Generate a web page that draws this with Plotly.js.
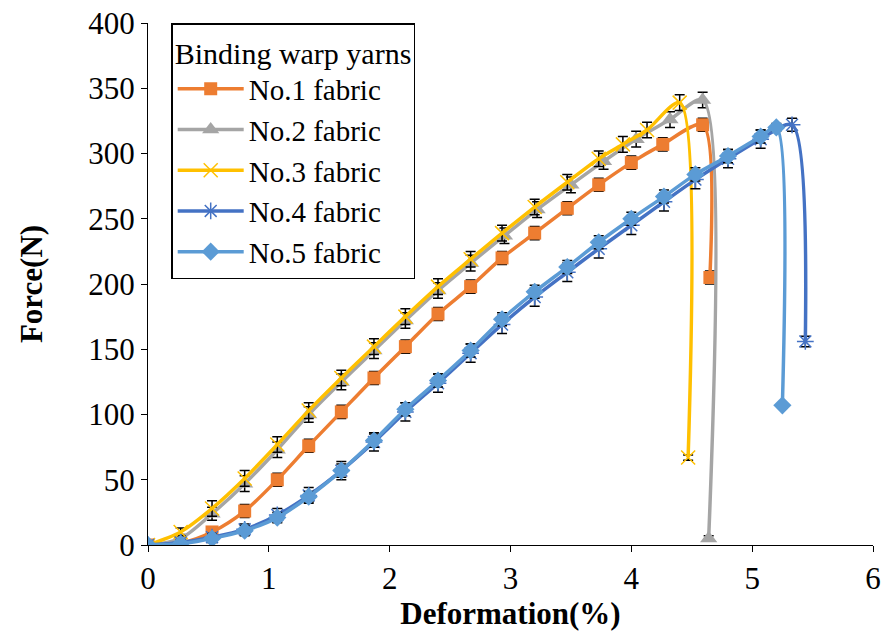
<!DOCTYPE html>
<html>
<head>
<meta charset="utf-8">
<script src="https://cdn.plot.ly/plotly-3.0.1.min.js"></script>
<style>html,body{margin:0;padding:0;background:#fff;}#chart{width:884px;height:640px;}</style>
</head>
<body>
<div id="chart"></div>
<script>
// Deformation (%) and Force (N)
const seriesNames = ["No.1 fabric", "No.2 fabric", "No.3 fabric", "No.4 fabric", "No.5 fabric"];

const x1 = [0, 0.27, 0.53, 0.8, 1.07, 1.33, 1.6, 1.87, 2.13, 2.4, 2.67, 2.93, 3.2, 3.47, 3.73, 4.0, 4.26, 4.59, 4.65];
const y1 = [0, 1.5, 10, 26, 50, 76, 102, 128, 152, 177, 198, 220, 239, 258, 276, 293, 307, 322, 205];

const x2 = [0, 0.27, 0.53, 0.8, 1.07, 1.33, 1.6, 1.87, 2.13, 2.4, 2.67, 2.95, 3.22, 3.5, 3.77, 4.04, 4.32, 4.59, 4.64];
const y2 = [0, 5, 24, 47, 73, 100, 125, 149, 172, 195, 216, 237, 257, 276, 294, 311, 326, 341, 5];

const x3 = [0, 0.27, 0.53, 0.8, 1.07, 1.33, 1.6, 1.87, 2.13, 2.4, 2.67, 2.93, 3.2, 3.47, 3.73, 3.93, 4.13, 4.4, 4.47];
const y3 = [0, 10, 28, 51, 77, 103, 128, 152, 175, 198, 219, 239, 259, 278, 296, 307, 318, 339, 67];

const x4 = [0, 0.27, 0.53, 0.8, 1.07, 1.33, 1.6, 1.87, 2.13, 2.4, 2.67, 2.93, 3.2, 3.47, 3.73, 4.0, 4.27, 4.53, 4.8, 5.07, 5.33, 5.44];
const y4 = [0, 2, 6, 12, 23, 38, 57, 79, 102, 124, 147, 169, 190, 209, 227, 245, 263, 280, 296, 311, 322, 156];

const x5 = [0, 0.27, 0.53, 0.8, 1.07, 1.33, 1.6, 1.87, 2.13, 2.4, 2.67, 2.93, 3.2, 3.47, 3.73, 4.0, 4.27, 4.53, 4.8, 5.07, 5.2, 5.25];
const y5 = [0, 1, 5, 11, 21, 37, 57, 80, 104, 126, 149, 173, 194, 213, 232, 250, 267, 284, 298, 313, 320, 107];

// error bar half-heights (N)
const err1 = [0, 2, 4, 5, 5, 5, 5, 5, 5, 5, 5, 5, 5, 5, 5, 5, 5, 5, 5];
const err2 = [0, 3, 5, 6, 6, 6, 6, 6, 6, 6, 6, 6, 6, 6, 6, 6, 6, 6, 2];
const err3 = [0, 3, 6, 6, 6, 6, 6, 6, 6, 6, 6, 6, 6, 6, 6, 6, 6, 6, 2];
const err4 = [0, 2, 3, 4, 5, 6, 7, 7, 7, 7, 7, 7, 7, 7, 7, 7, 7, 7, 7, 7, 5, 4];
const err5 = [0, 2, 3, 4, 4, 4, 5, 5, 5, 5, 5, 5, 5, 5, 5, 5, 5, 5, 5, 5, 3, 2];

const xTicks = [0, 1, 2, 3, 4, 5, 6];
const yTicks = [0, 50, 100, 150, 200, 250, 300, 350, 400];

const colors = ["#ED7D31", "#A5A5A5", "#FFC000", "#4472C4", "#5B9BD5"];
const xs = [x1, x2, x3, x4, x5];
const ys = [y1, y2, y3, y4, y5];
const errs = [err1, err2, err3, err4, err5];
const markers = [
  {symbol: "square", size: 13},
  {symbol: "triangle-up", size: 15},
  {symbol: "x-thin-open", size: 14, line: {width: 1.5}},
  {symbol: "asterisk-open", size: 14, line: {width: 1.5}},
  {symbol: "diamond", size: 14}
];

const traces = seriesNames.map((name, i) => {
  const m = Object.assign({color: colors[i]}, markers[i]);
  if (m.line) m.line = Object.assign({color: colors[i]}, m.line);
  return {
    type: "scatter",
    mode: "lines+markers",
    name: name,
    x: xs[i],
    y: ys[i],
    line: {color: colors[i], width: 3.5, shape: "spline", smoothing: 0.8},
    marker: m,
    error_y: {type: "data", array: errs[i], visible: true, color: "#000000", thickness: 1.5, width: 5}
  };
});

const font = "Liberation Serif";

const layout = {
  width: 884,
  height: 640,
  paper_bgcolor: "#ffffff",
  plot_bgcolor: "#ffffff",
  margin: {l: 148, r: 11, t: 23, b: 95},
  font: {family: font, size: 30, color: "#000000"},
  showlegend: true,
  legend: {
    x: 0.032, y: 1, xanchor: "left", yanchor: "top",
    bgcolor: "#ffffff",
    bordercolor: "#000000",
    borderwidth: 1.5,
    font: {family: font, size: 29, color: "#000000"},
    title: {text: "Binding warp yarns", font: {family: font, size: 30, color: "#000000"}, side: "top"},
    tracegroupgap: 0,
    itemwidth: 66
  },
  xaxis: {
    range: [0, 6],
    tickvals: xTicks,
    ticktext: xTicks.map(String),
    ticks: "outside", ticklen: 6, tickcolor: "#000000", tickwidth: 1,
    showline: true, linecolor: "#000000", linewidth: 1,
    showgrid: false, zeroline: false,
    tickfont: {family: font, size: 31, color: "#000000"},
    title: {text: "<b>Deformation(%)</b>", font: {family: font, size: 31, color: "#000000"}, standoff: 2}
  },
  yaxis: {
    range: [0, 400],
    tickvals: yTicks,
    ticktext: yTicks.map(String),
    ticks: "outside", ticklen: 6, tickcolor: "#000000", tickwidth: 1,
    showline: true, linecolor: "#000000", linewidth: 1,
    showgrid: false, zeroline: false,
    tickfont: {family: font, size: 31, color: "#000000"},
    title: {text: "<b>Force(N)</b>", font: {family: font, size: 31, color: "#000000"}, standoff: 36}
  }
};

Plotly.newPlot("chart", traces, layout, {displayModeBar: false, staticPlot: true});
</script>
</body>
</html>
